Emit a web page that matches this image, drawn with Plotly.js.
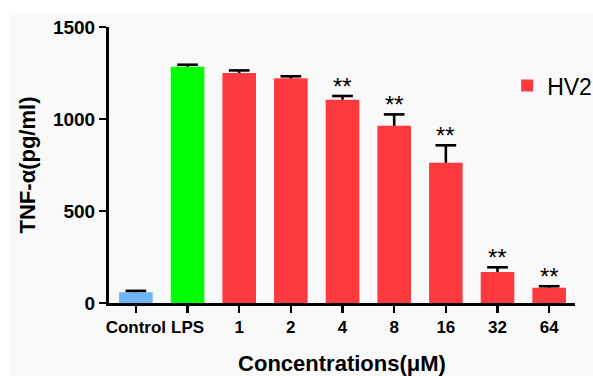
<!DOCTYPE html>
<html>
<head>
<meta charset="utf-8">
<script src="https://cdn.plot.ly/plotly-3.0.1.min.js"></script>
<style>
  html, body { margin: 0; padding: 0; background: #ffffff; width: 593px; height: 376px; overflow: hidden; }
  #chart { position: absolute; left: 9px; top: 13px; width: 584px; height: 363px; }
</style>
</head>
<body>
<div id="chart"></div>
<script>
const categories = ["Control", "LPS", "1", "2", "4", "8", "16", "32", "64"];
const controlValue = [58];
const controlError = [8];
const lpsValue = [1284];
const lpsError = [11];
const hv2Categories = ["1", "2", "4", "8", "16", "32", "64"];
const hv2Values = [1250, 1221, 1105, 963, 762, 168, 83];
const hv2Errors = [14, 11, 20, 62, 95, 26, 8];
const significance = ["", "", "**", "**", "**", "**", "**"];
const yTicks = [0, 500, 1000, 1500];

const FONT = "Arial, 'Liberation Sans', sans-serif";
const pos = c => categories.indexOf(c);
const BARW = 0.65;
const CAP = 0.2;

const allCats = ["Control", "LPS"].concat(hv2Categories);
const allVals = controlValue.concat(lpsValue, hv2Values);
const allErrs = controlError.concat(lpsError, hv2Errors);

// upward-only error whiskers with top cap, built from the data arrays
const ex = [], ey = [];
allCats.forEach((c, i) => {
  const p = pos(c), top = allVals[i] + allErrs[i];
  ex.push(p, p, null, p - CAP, p + CAP, null);
  ey.push(allVals[i], top, null, top, top, null);
});

const traces = [
  { type: 'bar', x: ["Control"].map(pos), y: controlValue, name: 'Control', showlegend: false, width: BARW,
    marker: { color: '#6cb4f4' } },
  { type: 'bar', x: ["LPS"].map(pos), y: lpsValue, name: 'LPS', showlegend: false, width: BARW,
    marker: { color: '#00ff00' } },
  { type: 'bar', x: hv2Categories.map(pos), y: hv2Values, name: 'HV2', showlegend: true, width: BARW,
    marker: { color: '#ff3a3f' } },
  { type: 'scatter', mode: 'lines', x: ex, y: ey, showlegend: false, hoverinfo: 'skip',
    line: { color: '#000000', width: 2.6 }, connectgaps: false }
];

const annotations = [];
hv2Categories.forEach((c, i) => {
  if (significance[i]) {
    annotations.push({
      x: pos(c), y: hv2Values[i] + hv2Errors[i], xref: 'x', yref: 'y',
      text: significance[i], showarrow: false, yanchor: 'bottom', yshift: -6,
      font: { family: FONT, size: 24, color: '#000000' }
    });
  }
});

const layout = {
  width: 584, height: 363,
  margin: { l: 100, r: 18, t: 14, b: 73, autoexpand: false },
  paper_bgcolor: '#f9f9f9',
  plot_bgcolor: '#f9f9f9',
  barmode: 'overlay',
  showlegend: true,
  legend: {
    xref: 'container', yref: 'container',
    x: 0.853, y: 0.80, xanchor: 'left', yanchor: 'middle',
    bgcolor: 'rgba(0,0,0,0)',
    font: { family: FONT, size: 23, color: '#000000' }
  },
  xaxis: {
    type: 'linear',
    range: [-0.52, 8.5],
    tickvals: categories.map(pos), ticktext: categories,
    showline: true, linecolor: '#000000', linewidth: 3,
    ticks: 'outside', ticklen: 7, tickwidth: 2.5, tickcolor: '#000000',
    showgrid: false, zeroline: false,
    tickfont: { family: FONT, size: 17, color: '#000000', weight: 'bold' },
    title: { text: 'Concentrations(μM)', standoff: 20,
             font: { family: FONT, size: 22, color: '#000000', weight: 'bold' } }
  },
  yaxis: {
    range: [0, 1500], tickvals: yTicks, ticktext: yTicks.map(String),
    showline: true, linecolor: '#000000', linewidth: 3,
    ticks: 'outside', ticklen: 7, tickwidth: 2.5, tickcolor: '#000000',
    showgrid: false, zeroline: false,
    tickfont: { family: FONT, size: 19, color: '#000000', weight: 'bold' },
    title: { text: 'TNF-α(pg/ml)', standoff: 12,
             font: { family: FONT, size: 22, color: '#000000', weight: 'bold' } }
  },
  annotations: annotations
};

Plotly.newPlot('chart', traces, layout, { displayModeBar: false, staticPlot: true });
</script>
</body>
</html>
